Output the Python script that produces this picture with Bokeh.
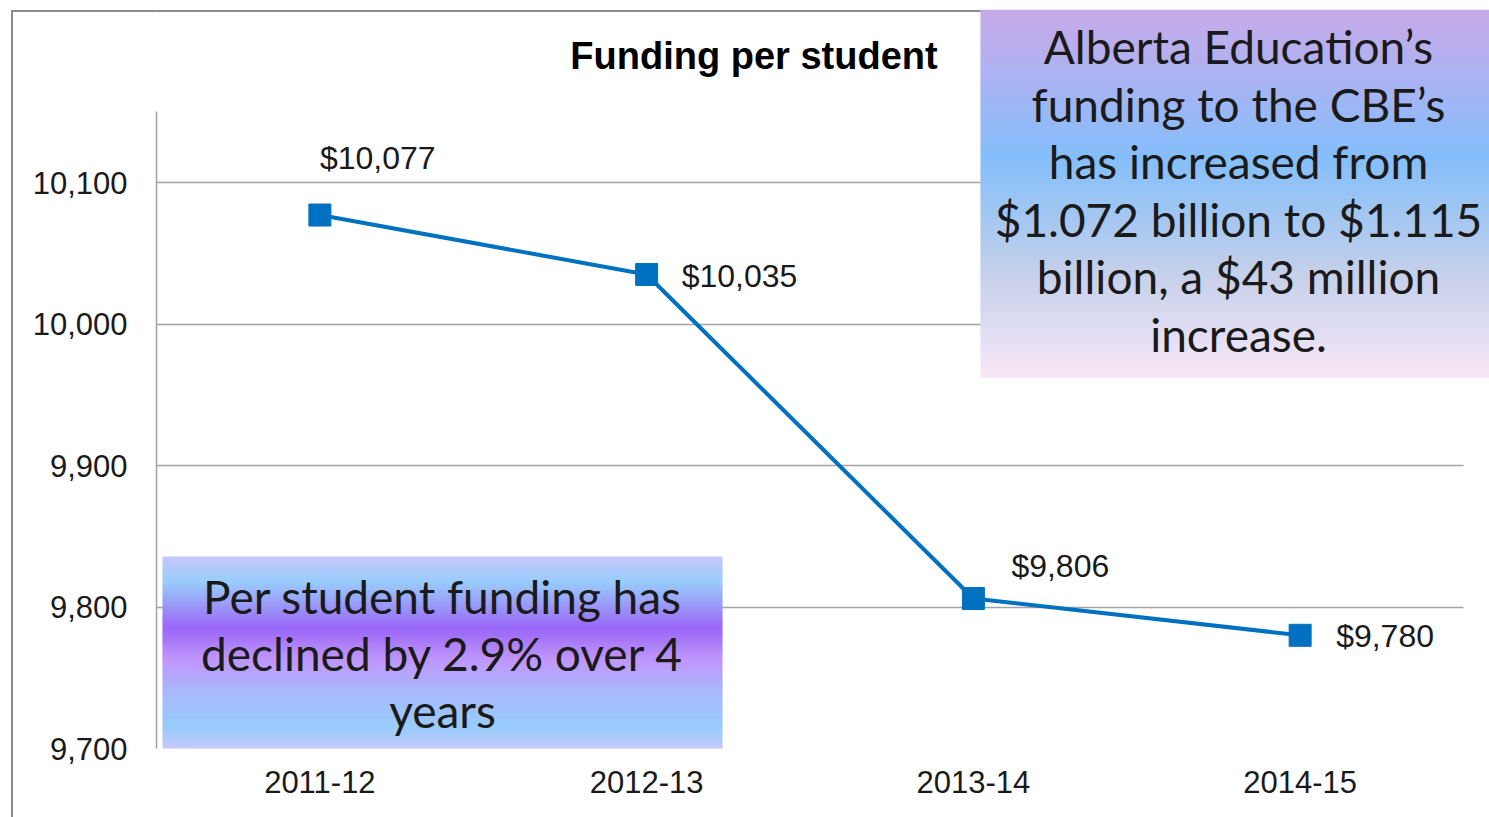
from bokeh.plotting import figure
from bokeh.models import (ColumnDataSource, FixedTicker, NumeralTickFormatter,
                          Label, BoxAnnotation, Range1d)
from bokeh.core.properties import value
from bokeh.embed import file_html
from bokeh.resources import INLINE

# ---------------- data ----------------
years = ["2011-12", "2012-13", "2013-14", "2014-15"]
funding = [10077, 10035, 9806, 9780]
funding_labels = ["$10,077", "$10,035", "$9,806", "$9,780"]
y_ticks = [9700, 9800, 9900, 10000, 10100]
y_axis_top = 10150
title_text = "Funding per student"
note_right = ["Alberta Education\u2019s", "funding to the CBE\u2019s",
              "has increased from", "$1.072 billion to $1.115",
              "billion, a $43 million", "increase."]
note_left = ["Per student funding has", "declined by 2.9% over 4", "years"]

# ---------------- style / layout ----------------
W, H = 1489, 817
FL, FT, FR, FB = 156, 9, 1489, 748     # frame edges (page px)
PLOT_R = 1463                          # right end of the drawn chart area
PX_PER_UNIT = 566 / 400.0              # vertical px per value unit
CAT_W = (PLOT_R - FL) / len(years)     # px per category
BLUE = "#0070C0"
GRID = "#a3a3a3"
BORDER = "#8c8c8c"
AXFONT = "Liberation Sans"
BOXFONT = "Lato"


def fx(px):
    return px - FL


def fy(py):
    return FB - py


x_pos = [i + 0.5 for i in range(len(years))]

p = figure(x_range=Range1d(0, (FR - FL) / CAT_W),
           y_range=Range1d(y_ticks[0], y_ticks[0] + (FB - FT) / PX_PER_UNIT),
           width=W, height=H, output_backend="svg", toolbar_location=None,
           min_border_left=FL, min_border_right=W - FR,
           min_border_top=FT, min_border_bottom=H - FB)
p.outline_line_color = None
p.background_fill_color = "white"
p.border_fill_color = None
p.styles = {
    "background": ("linear-gradient(%s,%s) 11px 9.5px / 2px 900px no-repeat, "
                   "linear-gradient(%s,%s) 11px 9.5px / 200px 2px no-repeat, white")
                  % (BORDER, BORDER, BORDER, BORDER)
}

p.xgrid.grid_line_color = None
p.ygrid.grid_line_color = GRID
p.ygrid.grid_line_width = 1.5
p.yaxis.ticker = FixedTicker(ticks=y_ticks)
p.yaxis.formatter = NumeralTickFormatter(format="0,0")
p.yaxis.bounds = (y_ticks[0], y_axis_top)
p.yaxis.axis_line_color = GRID
p.yaxis.axis_line_width = 1.5
p.yaxis.major_tick_line_color = None
p.yaxis.minor_tick_line_color = None
p.yaxis.major_tick_out = 0
p.yaxis.minor_tick_out = 0
p.yaxis.major_label_standoff = 29
p.yaxis.major_label_text_font = AXFONT
p.yaxis.major_label_text_font_size = "31px"
p.yaxis.major_label_text_color = "#1a1a1a"

p.xaxis.ticker = FixedTicker(ticks=x_pos)
p.xaxis.major_label_overrides = {x: y for x, y in zip(x_pos, years)}
p.xaxis.axis_line_color = None
p.xaxis.major_tick_line_color = None
p.xaxis.minor_tick_line_color = None
p.xaxis.major_tick_out = 0
p.xaxis.minor_tick_out = 0
p.xaxis.major_label_standoff = 22
p.xaxis.major_label_text_font = AXFONT
p.xaxis.major_label_text_font_size = "31px"
p.xaxis.major_label_text_color = "#1a1a1a"

src = ColumnDataSource(dict(x=x_pos, y=funding, t=funding_labels,
                            dx=[0, 35, 38, 36], dy=[-57, 2, -33, 1]))
p.line("x", "y", source=src, line_color=BLUE, line_width=4)
p.scatter("x", "y", source=src, marker="square", size=22,
          fill_color=BLUE, line_color=BLUE)
p.text("x", "y", text="t", source=src, x_offset="dx", y_offset="dy",
       text_align="left", text_baseline="middle",
       text_font=value(AXFONT), text_font_size="32px", text_color="#1a1a1a")


def sbox(x0, x1, y0, y1, color):
    p.add_layout(BoxAnnotation(left=fx(x0), right=fx(x1), top=fy(y0), bottom=fy(y1),
                               left_units="screen", right_units="screen",
                               top_units="screen", bottom_units="screen",
                               fill_color=color, fill_alpha=1.0, line_color=None))


# mask gridlines beyond the chart's right end, outer border top line
sbox(PLOT_R, FR + 5, 370, FB + 5, "white")
sbox(FL - 2, 990, 9.5, 11.5, BORDER)

# title
p.add_layout(Label(x=fx(753.5), y=fy(55), x_units="screen", y_units="screen",
                   text=title_text, text_align="center", text_baseline="alphabetic",
                   text_font=AXFONT, text_font_style="bold", text_font_size="38px",
                   text_color="black"))


def hex2rgb(h):
    h = h.lstrip("#")
    return tuple(int(h[i:i + 2], 16) for i in (0, 2, 4))


def grad_color(stops, t):
    for (p0, c0), (p1, c1) in zip(stops[:-1], stops[1:]):
        if p0 <= t <= p1:
            f = 0 if p1 == p0 else (t - p0) / (p1 - p0)
            a, b = hex2rgb(c0), hex2rgb(c1)
            return "#%02x%02x%02x" % tuple(round(a[i] + (b[i] - a[i]) * f) for i in range(3))
    return stops[-1][1]


def gradient_box(x0, x1, y0, y1, stops, step=2):
    y = y0
    while y < y1:
        yb = min(y + step, y1)
        t = (y + yb) / 2.0
        sbox(x0, x1, y, yb + 0.6, grad_color(stops, (t - y0) / (y1 - y0)))
        y = yb


right_stops = [(0.0, "#c9aae8"), (0.18, "#acb2f2"), (0.40, "#84befa"),
               (0.55, "#a0c6f2"), (0.72, "#c6d0ea"), (0.86, "#dedcf2"), (1.0, "#fae8f8")]
left_stops = [(0.0, "#c8c8fc"), (0.13, "#98ccfc"), (0.24, "#9a9ef8"), (0.37, "#9966f8"),
              (0.53, "#c096fc"), (0.70, "#a8b8fc"), (0.88, "#98ccfc"), (1.0, "#c8c8fc")]

gradient_box(980, FR + 5, 9, 377, right_stops)
gradient_box(162, 722, 556, 750, left_stops)

for i, line in enumerate(note_right):
    p.add_layout(Label(x=fx(1238), y=fy(46 + i * 57.6), x_units="screen", y_units="screen",
                       text=line, text_align="center", text_baseline="alphabetic",
                       text_font=BOXFONT, text_font_size="46px", text_color="#1a1a1a"))

for i, line in enumerate(note_left):
    p.add_layout(Label(x=fx(442), y=fy(596 + i * 57), x_units="screen", y_units="screen",
                       text=line, text_align="center", text_baseline="alphabetic",
                       text_font=BOXFONT, text_font_size="46px", text_color="#1a1a1a"))

open("out.html", "w").write(file_html(p, INLINE))
